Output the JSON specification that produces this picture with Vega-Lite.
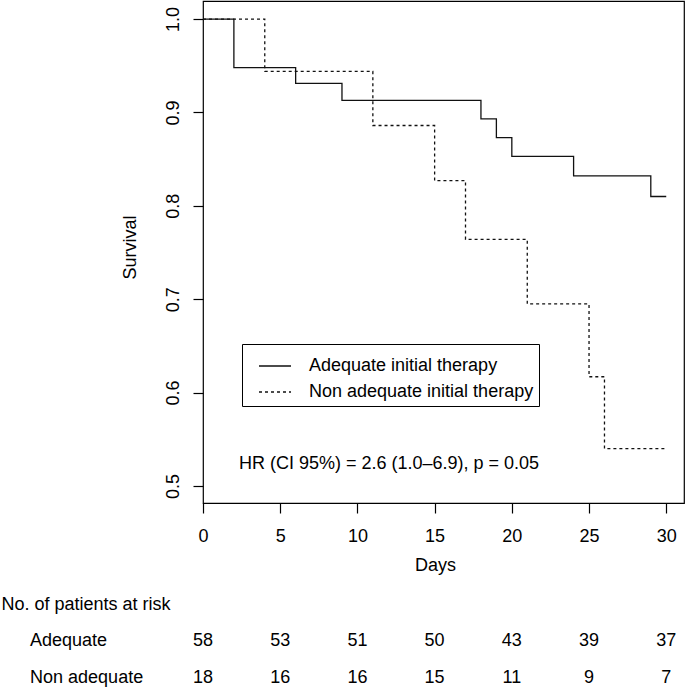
{
  "$schema": "https://vega.github.io/schema/vega-lite/v6.json",
  "width": 481,
  "height": 502,
  "autosize": {"type": "none"},
  "padding": {"left": 203, "top": 1, "right": 1, "bottom": 184},
  "background": "white",
  "config": {
    "font": "Liberation Sans",
    "view": {"stroke": "black", "strokeWidth": 1.2},
    "axis": {"grid": false, "domain": false, "tickColor": "black", "tickSize": 10, "tickWidth": 1.2, "labelColor": "black", "labelFontSize": 18, "titleColor": "black", "titleFontSize": 18, "titleFontWeight": "normal", "labelFont": "Liberation Sans", "titleFont": "Liberation Sans"},
    "text": {"font": "Liberation Sans", "fontSize": 18, "color": "black"}
  },
  "layer": [
    {
      "layer": [
        {
          "data": {"values": [
            {"group": "Adequate initial therapy", "day": 0, "surv": 1.0},
            {"group": "Adequate initial therapy", "day": 2, "surv": 0.948},
            {"group": "Adequate initial therapy", "day": 6, "surv": 0.931},
            {"group": "Adequate initial therapy", "day": 9, "surv": 0.913},
            {"group": "Adequate initial therapy", "day": 18, "surv": 0.893},
            {"group": "Adequate initial therapy", "day": 19, "surv": 0.873},
            {"group": "Adequate initial therapy", "day": 20, "surv": 0.853},
            {"group": "Adequate initial therapy", "day": 24, "surv": 0.832},
            {"group": "Adequate initial therapy", "day": 29, "surv": 0.81},
            {"group": "Adequate initial therapy", "day": 30, "surv": 0.81},
            {"group": "Non adequate initial therapy", "day": 0, "surv": 1.0},
            {"group": "Non adequate initial therapy", "day": 4, "surv": 0.944},
            {"group": "Non adequate initial therapy", "day": 11, "surv": 0.886},
            {"group": "Non adequate initial therapy", "day": 15, "surv": 0.827},
            {"group": "Non adequate initial therapy", "day": 17, "surv": 0.764},
            {"group": "Non adequate initial therapy", "day": 21, "surv": 0.695},
            {"group": "Non adequate initial therapy", "day": 25, "surv": 0.617},
            {"group": "Non adequate initial therapy", "day": 26, "surv": 0.54},
            {"group": "Non adequate initial therapy", "day": 30, "surv": 0.54}
          ]},
          "mark": {"type": "line", "interpolate": "step-after", "color": "#111", "strokeWidth": 1.3},
          "encoding": {
            "x": {"field": "day", "type": "quantitative", "scale": {"domain": [0, 31.15], "nice": false, "zero": false},
                  "axis": {"values": [0, 5, 10, 15, 20, 25, 30], "title": "Days", "labelPadding": 28, "labelBaseline": "alphabetic", "titleX": 232, "titleY": 67, "titleBaseline": "alphabetic", "titleAnchor": null, "labelFlush": false, "labelOverlap": false}},
            "y": {"field": "surv", "type": "quantitative", "scale": {"domain": [0.4818, 1.0193], "nice": false, "zero": false},
                  "axis": {"values": [0.5, 0.6, 0.7, 0.8, 0.9, 1.0], "format": ".1f", "title": "Survival", "labelAngle": 270, "labelAlign": "center", "labelBaseline": "alphabetic", "labelPadding": 15, "titleAngle": 270, "titleX": -68, "titleY": 246, "titleAlign": "center", "titleBaseline": "alphabetic", "labelFlush": false, "labelOverlap": false}},
            "strokeDash": {"field": "group", "type": "nominal",
                  "scale": {"domain": ["Adequate initial therapy", "Non adequate initial therapy"], "range": [[1, 0], [3, 3]]},
                  "legend": {"title": null, "orient": "none", "legendX": 39, "legendY": 343, "direction": "vertical",
                             "strokeColor": "black", "fillColor": "white", "padding": 5, "symbolType": "stroke", "symbolSize": 1024,
                             "symbolStrokeColor": "#111", "symbolStrokeWidth": 1.3, "symbolOffset": 11, "labelOffset": 17, "rowPadding": -10,
                             "labelFontSize": 18, "labelLimit": 0, "labelColor": "black", "labelFont": "Liberation Sans"}}
          }
        },
        {
          "data": {"values": [{"label": "HR (CI 95%) = 2.6 (1.0\u20136.9), p = 0.05"}]},
          "mark": {"type": "text", "align": "left", "baseline": "alphabetic"},
          "encoding": {
            "x": {"datum": 2.33, "type": "quantitative"},
            "y": {"datum": 0.518, "type": "quantitative"},
            "text": {"field": "label"}
          }
        }
      ]
    },
    {
      "layer": [
        {
          "data": {"values": [
            {"row": "Adequate", "day": 0, "n": 58},
            {"row": "Adequate", "day": 5, "n": 53},
            {"row": "Adequate", "day": 10, "n": 51},
            {"row": "Adequate", "day": 15, "n": 50},
            {"row": "Adequate", "day": 20, "n": 43},
            {"row": "Adequate", "day": 25, "n": 39},
            {"row": "Adequate", "day": 30, "n": 37},
            {"row": "Non adequate", "day": 0, "n": 18},
            {"row": "Non adequate", "day": 5, "n": 16},
            {"row": "Non adequate", "day": 10, "n": 16},
            {"row": "Non adequate", "day": 15, "n": 15},
            {"row": "Non adequate", "day": 20, "n": 11},
            {"row": "Non adequate", "day": 25, "n": 9},
            {"row": "Non adequate", "day": 30, "n": 7}
          ]},
          "mark": {"type": "text", "align": "center", "baseline": "alphabetic"},
          "encoding": {
            "x": {"field": "day", "type": "quantitative"},
            "y": {"field": "row", "type": "nominal", "scale": {"type": "point", "domain": ["No. of patients at risk", "Adequate", "Non adequate"], "range": [608.5, 681.5], "padding": 0}, "axis": null},
            "text": {"field": "n"}
          }
        },
        {
          "data": {"values": [{"row": "Adequate"}, {"row": "Non adequate"}]},
          "mark": {"type": "text", "align": "left", "baseline": "alphabetic"},
          "encoding": {
            "x": {"datum": -11.2, "type": "quantitative"},
            "y": {"field": "row", "type": "nominal", "axis": null},
            "text": {"field": "row"}
          }
        },
        {
          "data": {"values": [{"row": "No. of patients at risk"}]},
          "mark": {"type": "text", "align": "left", "baseline": "alphabetic"},
          "encoding": {
            "x": {"datum": -13.05, "type": "quantitative"},
            "y": {"field": "row", "type": "nominal", "axis": null},
            "text": {"field": "row"}
          }
        }
      ]
    }
  ],
  "resolve": {"scale": {"y": "independent"}}
}
